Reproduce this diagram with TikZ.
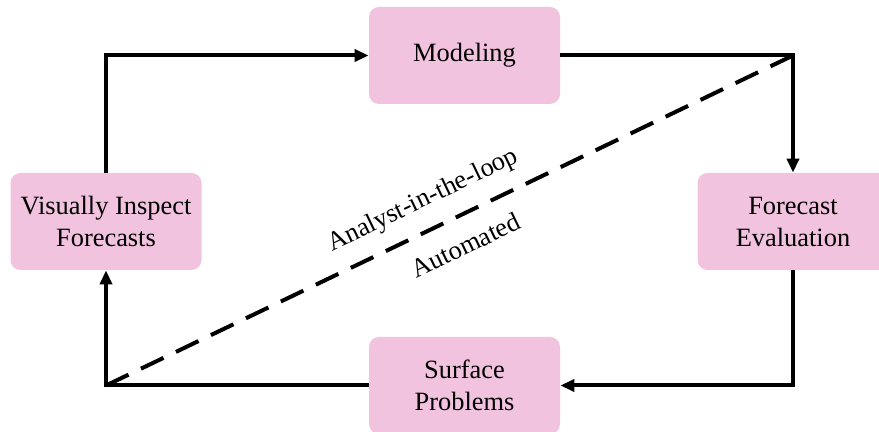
\documentclass[tikz,border=0pt]{standalone}
\usepackage{fontspec}
\setmainfont{Liberation Serif}
\usetikzlibrary{arrows.meta}
\definecolor{boxpink}{RGB}{241,195,222}
\begin{document}
\begin{tikzpicture}[x=0.5pt,y=-0.5pt,font=\fontsize{13.2}{16}\selectfont,
  stage/.style={fill=boxpink,rounded corners=5pt,minimum width=95.5pt,minimum height=48.5pt,align=center},
  flow/.style={line width=2pt,-{Triangle[length=7pt,width=6pt]}}]
\useasboundingbox(0,0)rectangle(879,432);
% the four stages of the loop
\node[stage](model)at(464.5,55.5){Modeling};
\node[stage](eval)at(793,221.5){Forecast\\Evaluation};
\node[stage](surface)at(464.5,385.5){Surface\\Problems};
\node[stage](inspect)at(106,221.5){Visually Inspect\\Forecasts};
\draw[flow](inspect.north)|-(model.west);
\draw[flow](model.east)-|(eval.north);
\draw[flow](eval.south)|-(surface.east);
\draw[flow](surface.west)-|(inspect.south);
% split between manual and automatic parts
\coordinate(bl)at(inspect.south|-surface.west);
\coordinate(tr)at(eval.north|-model.east);
\draw[line width=2pt,dash pattern=on 12.5pt off 6.9pt](bl)--
  node[sloped,pos=0.48,above=7.6pt,inner sep=0pt]{Analyst-in-the-loop}
  node[sloped,pos=0.505,below=9pt,inner sep=0pt]{Automated}(tr);
\end{tikzpicture}
\end{document}
